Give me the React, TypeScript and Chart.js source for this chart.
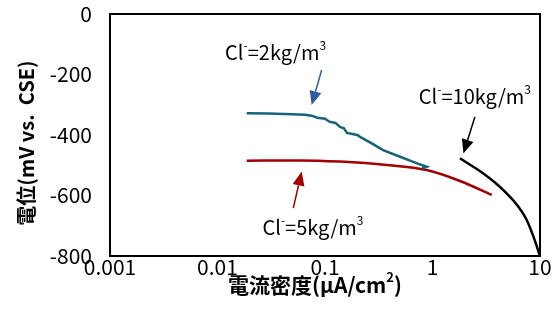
import React, { useEffect, useRef } from "react";
import { Chart, registerables } from "chart.js";
Chart.register(...registerables);

// ---- data ----
const xTickValues = [0.001, 0.01, 0.1, 1, 10];
const xTickLabels = ["0.001", "0.01", "0.1", "1", "10"];
const yTickValues = [0, -200, -400, -600, -800];
const yTickLabels = ["0", "-200", "-400", "-600", "-800"];

// Cl- = 2 kg/m3 (teal)
const cl2Current = [0.0187, 0.03, 0.05, 0.065, 0.075, 0.085, 0.1, 0.11, 0.125, 0.138, 0.15, 0.16, 0.2, 0.212, 0.28, 0.347, 0.499, 0.7, 0.883, 0.8];
const cl2Potential = [-328, -329, -331, -333, -336, -343, -346, -356, -360, -373, -378, -393, -400, -406, -430, -450, -472, -492, -505, -510];

// Cl- = 5 kg/m3 (dark red)
const cl5Current = [0.0187, 0.0585, 0.138, 0.375, 0.883, 1.8, 3.56];
const cl5Potential = [-485, -484, -488, -499, -516, -552, -598];

// Cl- = 10 kg/m3 (black)
const cl10Current = [1.8, 2.97, 3.81, 4.9, 6.11, 7.52, 8.71, 10];
const cl10Potential = [-477, -527, -557, -593, -631, -681, -737, -800];

const FONT = "'Noto Sans CJK JP', 'Noto Sans', sans-serif";
const TEAL = "#17647A";
const RED = "#A00000";
const BLUE = "#2F5C9E";

// annotation labels and arrows (data coordinates)
const annValues = ["2", "5", "10"];
const annTextX = [0.0347, 0.0773, 2.48];
const annTextY = [-129, -707, -274];
const annArrowFromX = [0.0931, 0.0507, 2.48];
const annArrowFromY = [-185, -642, -340];
const annArrowToX = [0.0751, 0.0607, 1.94];
const annArrowToY = [-301, -521, -461];
const annColors = [BLUE, RED, "#000000"];

const toPoints = (xs: number[], ys: number[]) => xs.map((x, i) => ({ x, y: ys[i] }));

function drawRich(ctx: CanvasRenderingContext2D, segs: { t: string; sup?: boolean }[], cx: number, cy: number, size: number, bold: boolean) {
  const w = bold ? "bold " : "";
  const supSize = Math.round(size * 0.62);
  let total = 0;
  for (const s of segs) {
    ctx.font = `${w}${s.sup ? supSize : size}px ${FONT}`;
    total += ctx.measureText(s.t).width;
  }
  let x = cx - total / 2;
  const base = cy + size * 0.36;
  ctx.textAlign = "left";
  ctx.textBaseline = "alphabetic";
  for (const s of segs) {
    ctx.font = `${w}${s.sup ? supSize : size}px ${FONT}`;
    ctx.fillText(s.t, x, s.sup ? base - size * 0.5 : base);
    x += ctx.measureText(s.t).width;
  }
}

function drawArrow(ctx: CanvasRenderingContext2D, x1: number, y1: number, x2: number, y2: number, color: string) {
  const ang = Math.atan2(y2 - y1, x2 - x1);
  const headLen = 14;
  const headW = 6;
  const bx = x2 - headLen * Math.cos(ang);
  const by = y2 - headLen * Math.sin(ang);
  ctx.strokeStyle = color;
  ctx.fillStyle = color;
  ctx.lineWidth = 1.5;
  ctx.beginPath();
  ctx.moveTo(x1, y1);
  ctx.lineTo(bx, by);
  ctx.stroke();
  ctx.beginPath();
  ctx.moveTo(x2, y2);
  ctx.lineTo(bx + headW * Math.sin(ang), by - headW * Math.cos(ang));
  ctx.lineTo(bx - headW * Math.sin(ang), by + headW * Math.cos(ang));
  ctx.closePath();
  ctx.fill();
}

const decorPlugin = {
  id: "decor",
  afterDraw(chart: any) {
    const ctx: CanvasRenderingContext2D = chart.ctx;
    const { left, right, top, bottom } = chart.chartArea;
    const xs = chart.scales.x;
    const ys = chart.scales.y;
    ctx.save();
    // frame
    ctx.strokeStyle = "#000";
    ctx.lineWidth = 2;
    ctx.strokeRect(left, top, right - left, bottom - top);

    // annotations
    for (let i = 0; i < annValues.length; i++) {
      const c = annColors[i];
      drawArrow(
        ctx,
        xs.getPixelForValue(annArrowFromX[i]),
        ys.getPixelForValue(annArrowFromY[i]),
        xs.getPixelForValue(annArrowToX[i]),
        ys.getPixelForValue(annArrowToY[i]),
        c
      );
      ctx.fillStyle = "#000";
      drawRich(
        ctx,
        [{ t: "Cl" }, { t: "-", sup: true }, { t: "=" + annValues[i] + "kg/m" }, { t: "3", sup: true }],
        xs.getPixelForValue(annTextX[i]),
        ys.getPixelForValue(annTextY[i]),
        20,
        false
      );
    }

    // axis titles
    ctx.fillStyle = "#000";
    drawRich(ctx, [{ t: "電流密度(μA/cm" }, { t: "2", sup: true }, { t: ")" }], 315, 285, 21, true);
    ctx.save();
    ctx.translate(27, 143);
    ctx.rotate(-Math.PI / 2);
    drawRich(ctx, [{ t: "電位(mV vs.  CSE)" }], 0, 0, 20, true);
    ctx.restore();
    ctx.restore();
  },
};

export default function App() {
  const ref = useRef<HTMLCanvasElement>(null);
  useEffect(() => {
    document.body.style.margin = "0";
    const chart = new Chart(ref.current!, {
      type: "line",
      data: {
        datasets: [
          { label: "Cl-=2kg/m3", data: toPoints(cl2Current, cl2Potential), borderColor: TEAL, borderWidth: 2.5, pointRadius: 0, tension: 0 },
          { label: "Cl-=5kg/m3", data: toPoints(cl5Current, cl5Potential), borderColor: RED, borderWidth: 2.5, pointRadius: 0, cubicInterpolationMode: "monotone" },
          { label: "Cl-=10kg/m3", data: toPoints(cl10Current, cl10Potential), borderColor: "#000", borderWidth: 2.5, pointRadius: 0, cubicInterpolationMode: "monotone" },
        ],
      },
      options: {
        animation: false,
        responsive: false,
        devicePixelRatio: 1,
        layout: { padding: { top: 14, right: 19, left: 0, bottom: 0 } },
        plugins: { legend: { display: false }, tooltip: { enabled: false } },
        scales: {
          x: {
            type: "logarithmic",
            min: 0.001,
            max: 10,
            afterBuildTicks: (s: any) => {
              s.ticks = xTickValues.map((v) => ({ value: v }));
            },
            afterFit: (s: any) => {
              s.height = 68;
            },
            ticks: {
              autoSkip: false,
              maxRotation: 0,
              padding: -2,
              color: "#000",
              font: { family: FONT, size: 21 },
              callback: (v: any) => xTickLabels[xTickValues.indexOf(Number(v))] ?? "",
            },
            grid: { display: false, drawTicks: false },
            border: { display: false },
          },
          y: {
            type: "linear",
            min: -800,
            max: 0,
            afterBuildTicks: (s: any) => {
              s.ticks = yTickValues.map((v) => ({ value: v }));
            },
            afterFit: (s: any) => {
              s.width = 110;
            },
            ticks: {
              padding: 1,
              color: "#000",
              font: { family: FONT, size: 21 },
              callback: (v: any) => yTickLabels[yTickValues.indexOf(Number(v))] ?? "",
            },
            grid: { display: false, drawTicks: true, tickLength: 17, tickColor: "rgba(0,0,0,0)" },
            border: { display: false },
          },
        },
      } as any,
      plugins: [decorPlugin],
    });
    return () => chart.destroy();
  }, []);
  return (
    <div style={{ width: 559, height: 324 }}>
      <canvas ref={ref} width={559} height={324} />
    </div>
  );
}
